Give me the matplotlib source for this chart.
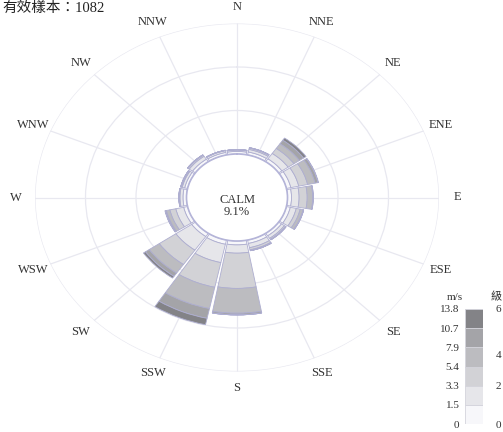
import numpy as np
import matplotlib
matplotlib.use("Agg")
import matplotlib.pyplot as plt

plt.rcParams["font.family"] = ["Liberation Serif", "Noto Sans CJK TC"]

directions = ["N", "NNE", "NE", "ENE", "E", "ESE", "SE", "SSE",
              "S", "SSW", "SW", "WSW", "W", "WNW", "NW", "NNW"]

# frequency (%) per speed class, one list per class, in direction order
speed_0_15 = [0.6, 0.7, 0.8, 0.9, 0.8, 0.8, 0.7, 0.8, 0.9, 1.0, 0.9, 0.8, 0.7, 0.6, 0.7, 0.6]
speed_15_33 = [0.3, 0.6, 1.5, 1.6, 1.5, 1.2, 0.7, 1.0, 1.9, 4.3, 3.8, 1.6, 0.6, 0.5, 0.8, 0.4]
speed_33_54 = [0.1, 0.3, 1.4, 1.8, 1.6, 0.8, 0.3, 0.5, 8.1, 5.8, 4.0, 1.2, 0.2, 0.2, 0.3, 0.1]
speed_54_79 = [0.0, 0.1, 1.3, 1.5, 1.1, 0.6, 0.1, 0.2, 5.7, 5.0, 2.4, 0.7, 0.0, 0.1, 0.1, 0.0]
speed_79_107 = [0.0, 0.0, 1.0, 0.6, 0.1, 0.1, 0.0, 0.0, 0.4, 2.3, 0.9, 0.2, 0.0, 0.0, 0.0, 0.0]
speed_107_138 = [0.0, 0.0, 0.6, 0.1, 0.0, 0.0, 0.0, 0.0, 0.0, 1.5, 0.5, 0.1, 0.0, 0.0, 0.0, 0.0]

speed_bounds = ["0", "1.5", "3.3", "5.4", "7.9", "10.7", "13.8"]
level_labels = ["0", "2", "4", "6"]
level_pos = [0, 2, 3.6, 6]

calm_pct = 9.1
n_samples = 1082
rings = [0, 10, 20, 30]

classes = [speed_0_15, speed_15_33, speed_33_54, speed_54_79, speed_79_107, speed_107_138]
colors = ["#f7f7fa", "#e6e6ea", "#d2d2d6", "#bcbcc0", "#a4a4a8", "#838387"]
edge = "#aeaed0"
grid_c = "#e8e8f0"
text_c = "#333333"

fig = plt.figure(figsize=(5.03, 4.32), dpi=100)

ax = fig.add_axes([35 / 503, 60.5 / 432, 404 / 503, 348 / 432], projection="polar")
ax.set_aspect("auto")
ax.set_theta_zero_location("N")
ax.set_theta_direction(-1)
ax.set_rorigin(-10)
ax.set_ylim(0, 30)

theta = np.deg2rad(np.arange(16) * 22.5)
width = np.deg2rad(22.5) * 0.93

bottom = np.zeros(16)
for vals, col in zip(classes, colors):
    vals = np.array(vals)
    ax.bar(theta, vals, width=width, bottom=bottom, color=col,
           edgecolor=edge, linewidth=0.6, zorder=3)
    bottom += vals

ax.set_xticks(theta)
ax.set_xticklabels([])
ax.set_yticks(rings)
ax.set_yticklabels([])
ax.grid(True, color=grid_c, linewidth=0.9)
ax.tick_params(length=0)
for name, sp in ax.spines.items():
    sp.set_visible(False)
# lavender rim around the calm circle
ax.spines["inner"].set_visible(True)
ax.spines["inner"].set_color("#b4b4d8")
ax.spines["inner"].set_linewidth(1.2)
ax.spines["inner"].set_zorder(4)

# direction names around the rose
for t, name in zip(theta, directions):
    ax.text(t, 33.7, name, ha="center", va="center", fontsize=9,
            color=text_c, clip_on=False)

# percentage labels along the east axis
for r in rings:
    ax.annotate(f"{r}%", xy=(np.pi / 2, r), xytext=(2, -11),
                textcoords="offset pixels", ha="center", va="center",
                fontsize=9, color=text_c, zorder=5)

ax.text(0.5, 0.476, f"CALM\n{calm_pct}%", transform=ax.transAxes,
        ha="center", va="center", fontsize=9, color=text_c,
        linespacing=1.0, zorder=5)

fig.text(2 / 503, 1 - 1 / 432, f"有效樣本：{n_samples}", ha="left", va="top",
         fontsize=10.5, color="#222222")

# speed class legend
lax = fig.add_axes([465 / 503, 8 / 432, 18 / 503, 115 / 432])
for i, col in enumerate(colors):
    lax.bar(0, 1, bottom=i, width=1, color=col, edgecolor="#d4d4dc", linewidth=0.6)
lax.set_xlim(-0.5, 0.5)
lax.set_ylim(0, 6)
lax.set_xticks([])
lax.set_yticks(range(7))
lax.set_yticklabels(speed_bounds, fontsize=8, color=text_c)
lax.tick_params(length=0, pad=4)
for sp in lax.spines.values():
    sp.set_visible(False)
rax = lax.twinx()
rax.set_ylim(0, 6)
rax.set_yticks(level_pos)
rax.set_yticklabels(level_labels, fontsize=8, color=text_c)
rax.tick_params(length=0, pad=9)
for sp in rax.spines.values():
    sp.set_visible(False)
fig.text(455 / 503, 1 - 297 / 432, "m/s", ha="center", va="center",
         fontsize=8, color=text_c)
fig.text(496 / 503, 1 - 297 / 432, "級", ha="center", va="center",
         fontsize=8, color=text_c)

fig.savefig("out.png", dpi=100)
